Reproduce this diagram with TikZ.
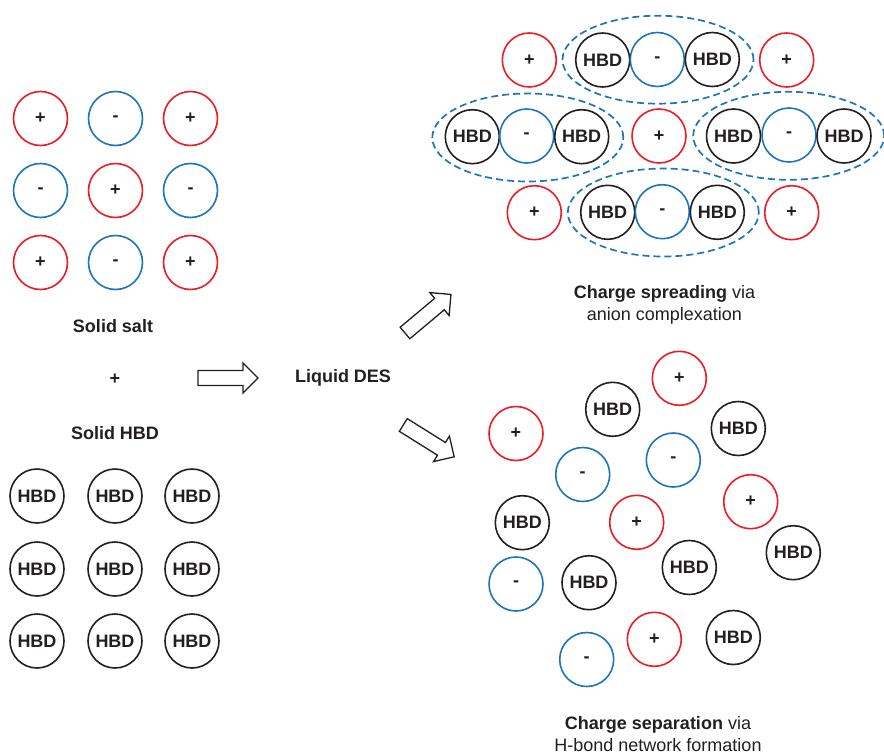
\documentclass[tikz,border=0pt]{standalone}
\usepackage{fontspec}
\setmainfont{Liberation Sans}
\usetikzlibrary{shapes.geometric}
\definecolor{cred}{RGB}{237,28,36}
\definecolor{cblue}{RGB}{28,117,188}
\definecolor{cdark}{RGB}{35,31,32}
\begin{document}
\begin{tikzpicture}[x=1pt,y=-1pt,
 ion/.style={circle, minimum size=54pt, inner sep=0pt, line width=1.6pt, font=\fontsize{18}{22}\selectfont\bfseries, text=cdark},
 cat/.style={ion, draw=cred},
 ani/.style={ion, draw=cblue},
 hbd/.style={ion, draw=cdark},
 cluster/.style={ellipse, draw=cblue, dash pattern=on 7pt off 4pt, line width=1.7pt, minimum width=191pt, minimum height=88pt, inner sep=0pt},
 lbl/.style={font=\fontsize{18}{22}\selectfont, text=cdark, align=center, inner sep=0pt},
 barrow/.style={draw=cdark, fill=white, line width=1.3pt, line join=miter},
]
\useasboundingbox (0,0) rectangle (884,755);

% solid salt grid
\node[cat] (s11) at (40.5,118.5) {+};
\node[ani] (s12) at (115.5,118.5) {-};
\node[cat] (s13) at (190.5,118.5) {+};
\node[ani] (s21) at (40.5,190.5) {-};
\node[cat] (s22) at (115.5,190.5) {+};
\node[ani] (s23) at (190.5,190.5) {-};
\node[cat] (s31) at (40.5,262.5) {+};
\node[ani] (s32) at (115.5,262.5) {-};
\node[cat] (s33) at (190.5,262.5) {+};

\node[lbl, font=\fontsize{18}{22}\selectfont\bfseries] (salt) at (113,326) {Solid salt};
\node[lbl, font=\fontsize{18}{22}\selectfont\bfseries] (plus) at (115,379) {+};
\node[lbl, font=\fontsize{18}{22}\selectfont\bfseries] (hbdlbl) at (115,433) {Solid HBD};

% solid HBD grid
\node[hbd] (h11) at (37,496) {HBD};
\node[hbd] (h12) at (115,496) {HBD};
\node[hbd] (h13) at (192,496) {HBD};
\node[hbd] (h21) at (37,569) {HBD};
\node[hbd] (h22) at (115,569) {HBD};
\node[hbd] (h23) at (192,569) {HBD};
\node[hbd] (h31) at (37,641) {HBD};
\node[hbd] (h32) at (115,641) {HBD};
\node[hbd] (h33) at (192,641) {HBD};

% arrows
\draw[barrow, shift={(198,378)}] (0,-7.5) -- (45,-7.5) -- (45,-15) -- (60,0) -- (45,15) -- (45,7.5) -- (0,7.5) -- cycle;
\node[lbl, font=\fontsize{18}{22}\selectfont\bfseries] (des) at (343,378) {Liquid DES};
\draw[barrow, shift={(405,333)}, rotate=40] (0,-7.5) -- (45,-7.5) -- (45,-15) -- (60,0) -- (45,15) -- (45,7.5) -- (0,7.5) -- cycle;
\draw[barrow, shift={(403.3,425)}, rotate=-32] (0,-7.5) -- (45,-7.5) -- (45,-15) -- (60,0) -- (45,15) -- (45,7.5) -- (0,7.5) -- cycle;

% charge spreading cluster
\node[cluster] (e1) at (658,59.7) {};
\node[cluster] (e2) at (527.8,137.5) {};
\node[cluster] (e3) at (788.7,135.8) {};
\node[cluster] (e4) at (663.3,212.5) {};

\node[cat] (a1) at (529.3,60) {+};
\node[hbd] (a2) at (602.7,60) {HBD};
\node[ani] (a3) at (657.3,59.5) {-};
\node[hbd] (a4) at (712.3,59.5) {HBD};
\node[cat] (a5) at (786.7,60) {+};

\node[hbd] (b1) at (472.3,136.7) {HBD};
\node[ani] (b2) at (526.7,136) {-};
\node[hbd] (b3) at (581.7,136.7) {HBD};
\node[cat] (b4) at (659,136) {+};
\node[hbd] (b5) at (733.5,136) {HBD};
\node[ani] (b6) at (789,135) {-};
\node[hbd] (b7) at (844,136) {HBD};

\node[cat] (c1) at (534.3,212.7) {+};
\node[hbd] (c2) at (607.7,212.3) {HBD};
\node[ani] (c3) at (662.3,211.7) {-};
\node[hbd] (c4) at (717.3,212.3) {HBD};
\node[cat] (c5) at (791.7,212.7) {+};

\node[lbl] (spread) at (664.5,304.5) {\textbf{Charge spreading} via\\anion complexation};

% charge separation cluster
\node[cat] (d1) at (679.3,378.3) {+};
\node[hbd] (d2) at (612.7,409.3) {HBD};
\node[cat] (d3) at (516,433.5) {+};
\node[hbd] (d4) at (738.3,428.5) {HBD};
\node[ani] (d5) at (582.7,474.5) {-};
\node[ani] (d6) at (673.3,460) {-};
\node[cat] (d7) at (750.7,501.7) {+};
\node[hbd] (d8) at (522.3,522.7) {HBD};
\node[cat] (d9) at (636.7,522.3) {+};
\node[hbd] (d10) at (793.3,552.7) {HBD};
\node[hbd] (d11) at (689.3,567.5) {HBD};
\node[ani] (d12) at (516,584) {-};
\node[hbd] (d13) at (589,582.7) {HBD};
\node[cat] (d14) at (654.3,639.3) {+};
\node[hbd] (d15) at (733.3,637.5) {HBD};
\node[ani] (d16) at (586.7,659.5) {-};

\node[lbl] (separ) at (658,734) {\textbf{Charge separation} via\\H-bond network formation};
\end{tikzpicture}
\end{document}
